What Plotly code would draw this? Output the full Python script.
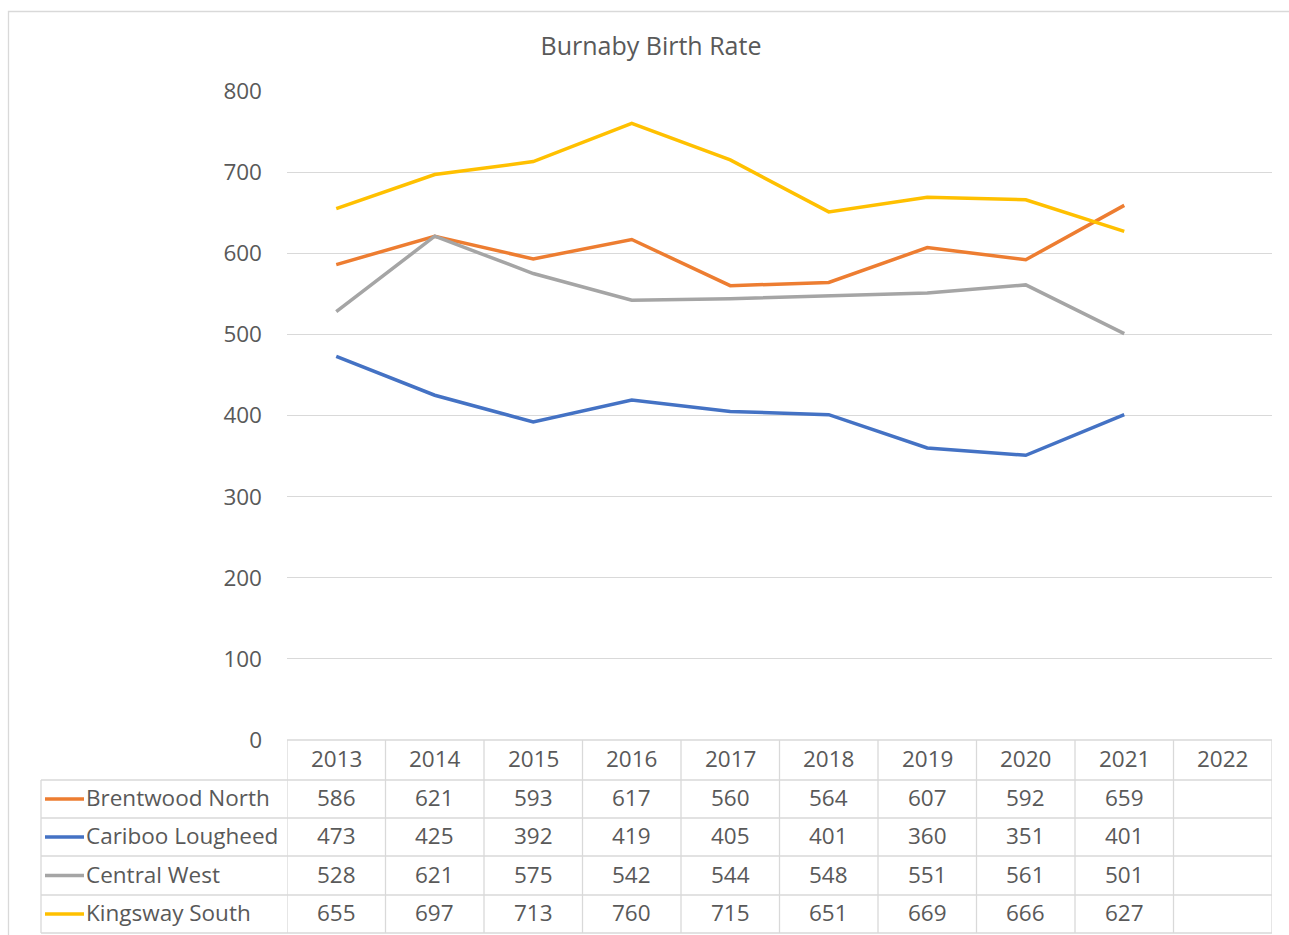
import plotly.graph_objects as go

years = ["2013", "2014", "2015", "2016", "2017", "2018", "2019", "2020", "2021", "2022"]
series_names = ["Brentwood North", "Cariboo Lougheed", "Central West", "Kingsway South"]
brentwood_north = [586, 621, 593, 617, 560, 564, 607, 592, 659, None]
cariboo_lougheed = [473, 425, 392, 419, 405, 401, 360, 351, 401, None]
central_west = [528, 621, 575, 542, 544, 548, 551, 561, 501, None]
kingsway_south = [655, 697, 713, 760, 715, 651, 669, 666, 627, None]
series_colors = ["#ED7D31", "#4472C4", "#A5A5A5", "#FFC000"]

W, H = 1289, 935
L, R, T, B = 287, 1272, 91, 740  # plot area in pixels
FONT = "Open Sans"
TXT = "#595959"
GRID = "#D9D9D9"


def py(p):
    # pixel row -> paper y
    return (B - p) / (B - T)


def px(p):
    return (p - L) / (R - L)


fig = go.Figure()
all_series = [brentwood_north, cariboo_lougheed, central_west, kingsway_south]
for name, vals, col in zip(series_names, all_series, series_colors):
    fig.add_trace(
        go.Scatter(
            x=years,
            y=vals,
            name=name,
            mode="lines",
            line=dict(color=col, width=3.5),
            showlegend=False,
        )
    )

shapes = []
annotations = []

# table row boundaries (pixels)
row_edges = [740, 780, 818, 856, 895, 933]
n = len(years)

# horizontal lines
shapes.append(dict(type="line", xref="x", yref="paper", x0=-0.5, x1=n - 0.5,
                   y0=py(row_edges[0]), y1=py(row_edges[0]), line=dict(color=GRID, width=1.3)))
for e in row_edges[1:]:
    shapes.append(dict(type="line", xref="paper", yref="paper", x0=px(41), x1=1,
                       y0=py(e), y1=py(e), line=dict(color=GRID, width=1.3)))
# vertical lines
shapes.append(dict(type="line", xref="paper", yref="paper", x0=px(41), x1=px(41),
                   y0=py(row_edges[1]), y1=py(row_edges[-1]), line=dict(color=GRID, width=1.3)))
for i in range(n + 1):
    shapes.append(dict(type="line", xref="x", yref="paper", x0=i - 0.5, x1=i - 0.5,
                       y0=py(row_edges[0]), y1=py(row_edges[-1]), line=dict(color=GRID, width=1.3)))

cell_font = dict(family=FONT, size=22.5, color=TXT)
lift = 1.5  # text sits a touch above the row centre

# header years
hc = (row_edges[0] + row_edges[1]) / 2 - lift
for i, yr in enumerate(years):
    annotations.append(dict(x=i, xref="x", y=py(hc), yref="paper", text=yr,
                            xanchor="center", yanchor="middle",
                            showarrow=False, font=cell_font))

# data rows
for r, (name, vals, col) in enumerate(zip(series_names, all_series, series_colors)):
    c = (row_edges[r + 1] + row_edges[r + 2]) / 2
    shapes.append(dict(type="line", xref="paper", yref="paper", x0=px(45), x1=px(84),
                       y0=py(c), y1=py(c), line=dict(color=col, width=3.5)))
    annotations.append(dict(x=px(84), xref="paper", y=py(c - lift), yref="paper", text=name,
                            xanchor="left", yanchor="middle", showarrow=False,
                            font=cell_font))
    for i, v in enumerate(vals):
        if v is None:
            continue
        annotations.append(dict(x=i, xref="x", y=py(c - lift), yref="paper", text=str(v),
                                xanchor="center", yanchor="middle",
                                showarrow=False, font=cell_font))

# outer chart border
shapes.append(dict(type="rect", xref="paper", yref="paper", x0=px(8.5), x1=px(1300),
                   y0=py(960), y1=py(11.5), line=dict(color=GRID, width=1.3)))

fig.update_layout(
    width=W,
    height=H,
    margin=dict(l=L, r=W - R, t=T, b=H - B),
    paper_bgcolor="white",
    plot_bgcolor="white",
    title=dict(text="Burnaby Birth Rate", xref="paper", x=px(651), xanchor="center",
               yref="container", y=1 - 46 / H, yanchor="middle",
               font=dict(family=FONT, size=25, color=TXT)),
    xaxis=dict(type="category", categoryorder="array", categoryarray=years,
               range=[-0.5, n - 0.5], showticklabels=False, showgrid=False,
               zeroline=False, showline=False, ticks=""),
    yaxis=dict(range=[0, 800], tickvals=list(range(0, 801, 100)), showgrid=True,
               gridcolor=GRID, gridwidth=1.3, zeroline=False, showline=False,
               ticklabelstandoff=24,
               tickfont=dict(family=FONT, size=22.5, color=TXT)),
    shapes=shapes,
    annotations=annotations,
)

fig.write_html("out.html", config={"displayModeBar": False},
               post_script="document.body.style.margin='0';")
